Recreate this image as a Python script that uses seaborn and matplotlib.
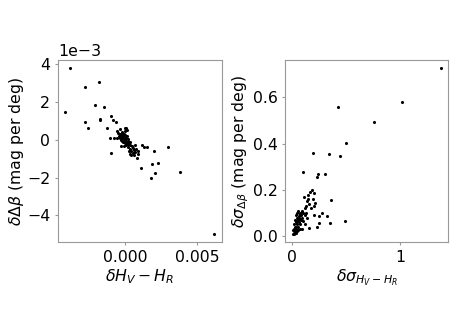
import matplotlib
matplotlib.use("Agg")
import matplotlib.pyplot as plt
import seaborn as sns
import pandas as pd

# left panel: delta H_V - H_R vs delta(delta beta)
dh = [-0.00388, -0.00419, -0.00281, -0.00186, -0.00281, -0.00263, -0.00214, -0.00174,
      -0.00174, -0.00147, -0.00128, -0.00100, -0.00086, -0.00063, -0.00109, -0.00081,
      -0.00100, -0.00035, -0.00023, -0.00030, 0.00007, 0.00058, 0.00081, 0.00116,
      0.00133, 0.00151, 0.00109, 0.00198, 0.00186, 0.00179, 0.00209, 0.00226,
      0.00295, 0.00384, 0.00621,
      -0.00050, -0.00045, -0.00040, -0.00035, -0.00030, -0.00030, -0.00025, -0.00025,
      -0.00020, -0.00020, -0.00015, -0.00015, -0.00010, -0.00010, -0.00005, -0.00005,
      0.00000, 0.00000, 0.00000, 0.00005, 0.00005, 0.00010, 0.00010, 0.00015,
      0.00015, 0.00020, 0.00020, 0.00025, 0.00030, 0.00030, 0.00035, 0.00040,
      0.00045, 0.00050, 0.00055, 0.00060, 0.00065, 0.00070, 0.00075, 0.00085,
      0.00090, -0.00060, -0.00055, 0.00000, 0.00010, -0.00005, 0.00025, 0.00040,
      -0.00010, 0.00035]
dbeta = [0.00377, 0.00144, 0.00275, 0.00305, 0.00093, 0.00063, 0.00184, 0.00109,
         0.00102, 0.00174, 0.00063, 0.00125, 0.00104, 0.00093, 0.00010, 0.00010,
         -0.00072, 0.00054, 0.00033, -0.00033, 0.00063, -0.00081, -0.00098, -0.00028,
         -0.00037, -0.00040, -0.00149, -0.00058, -0.00128, -0.00200, -0.00174, -0.00121,
         -0.00039, -0.00172, -0.00496,
         0.00035, 0.00020, 0.00010, 0.00030, 0.00015, 0.00000, 0.00025, -0.00005,
         0.00010, 0.00040, 0.00020, -0.00010, 0.00005, 0.00030, 0.00015, -0.00015,
         0.00000, 0.00025, -0.00020, 0.00010, -0.00030, -0.00010, 0.00020, -0.00025,
         0.00005, -0.00040, -0.00005, -0.00020, -0.00050, -0.00030, -0.00010, -0.00060,
         -0.00035, -0.00045, -0.00070, -0.00055, -0.00030, -0.00065, -0.00050, -0.00075,
         -0.00060, 0.00010, 0.00045, 0.00045, 0.00050, 0.00060, -0.00060, -0.00080,
         -0.00035, -0.00075]

# right panel: sigma values
sig_h = [1.373, 1.020, 0.755, 0.425, 0.500, 0.450, 0.343, 0.200, 0.104, 0.240,
         0.230, 0.306, 0.367, 0.490, 0.358, 0.327, 0.280, 0.250, 0.250, 0.230,
         0.205, 0.220, 0.205, 0.190, 0.170, 0.150, 0.113, 0.159, 0.200, 0.210,
         0.180, 0.160, 0.130, 0.140, 0.120, 0.100,
         0.010, 0.020, 0.020, 0.030, 0.030, 0.040, 0.040, 0.050, 0.050, 0.060,
         0.060, 0.070, 0.070, 0.080, 0.080, 0.090, 0.090, 0.100, 0.100, 0.110,
         0.120, 0.130, 0.120, 0.140, 0.150, 0.020, 0.030, 0.040, 0.050, 0.060,
         0.015, 0.025, 0.035, 0.045, 0.055, 0.065, 0.075, 0.085, 0.095, 0.040,
         0.060, 0.080, 0.110, 0.050]
sig_beta = [0.727, 0.579, 0.492, 0.560, 0.401, 0.346, 0.354, 0.361, 0.276, 0.267,
            0.257, 0.267, 0.154, 0.065, 0.058, 0.087, 0.098, 0.087, 0.055, 0.040,
            0.091, 0.141, 0.185, 0.200, 0.190, 0.177, 0.170, 0.033, 0.160, 0.130,
            0.120, 0.140, 0.100, 0.080, 0.050, 0.030,
            0.010, 0.020, 0.030, 0.015, 0.040, 0.030, 0.060, 0.050, 0.020, 0.070,
            0.040, 0.080, 0.060, 0.100, 0.050, 0.090, 0.070, 0.110, 0.080, 0.100,
            0.120, 0.130, 0.090, 0.150, 0.160, 0.050, 0.070, 0.090, 0.100, 0.110,
            0.025, 0.010, 0.020, 0.040, 0.065, 0.085, 0.095, 0.075, 0.105, 0.015,
            0.025, 0.030, 0.065, 0.080]

left_yticks = [-0.004, -0.002, 0.0, 0.002, 0.004]
left_xticks = [0.0, 0.005]
right_xticks = [0, 1]
right_yticks = [0.0, 0.2, 0.4, 0.6]

sns.set_style("white")
plt.rcParams['font.size'] = 11.3
plt.rcParams['axes.edgecolor'] = '#999999'
plt.rcParams['text.color'] = 'black'
plt.rcParams['axes.labelcolor'] = 'black'
plt.rcParams['xtick.color'] = 'black'
plt.rcParams['ytick.color'] = 'black'

df_left = pd.DataFrame({"dh": dh, "dbeta": dbeta})
df_right = pd.DataFrame({"sh": sig_h, "sb": sig_beta})

fig = plt.figure(figsize=(4.63, 3.27), dpi=100)
ax1 = fig.add_axes([0.125, 0.26, 0.354, 0.557])
ax2 = fig.add_axes([0.616, 0.26, 0.352, 0.557])

sns.scatterplot(data=df_left, x="dh", y="dbeta", ax=ax1, color="black", s=5, linewidth=0)
sns.scatterplot(data=df_right, x="sh", y="sb", ax=ax2, color="black", s=5, linewidth=0)

ax1.set_xticks(left_xticks)
ax1.set_yticks(left_yticks)
ax1.ticklabel_format(axis="y", style="sci", scilimits=(0, 0))
ax1.xaxis.set_major_formatter(matplotlib.ticker.FormatStrFormatter('%.3f'))
ax1.set_xlabel(r'$\delta H_V - H_R$', fontsize=11.3, labelpad=2)
ax1.set_ylabel(r'$\delta\Delta\beta$ (mag per deg)', fontsize=11.3, labelpad=1)

ax2.set_xticks(right_xticks)
ax2.set_yticks(right_yticks)
ax2.set_xlabel(r'$\delta\sigma_{H_V - H_R}$', fontsize=11.3, labelpad=2)
ax2.set_ylabel(r'$\delta\sigma_{\Delta\beta}$ (mag per deg)', fontsize=11.3, labelpad=1)

for ax in (ax1, ax2):
    ax.tick_params(labelsize=11.3, length=2, left=True, bottom=True, color='#999999')

fig.savefig("out.png", dpi=100)
